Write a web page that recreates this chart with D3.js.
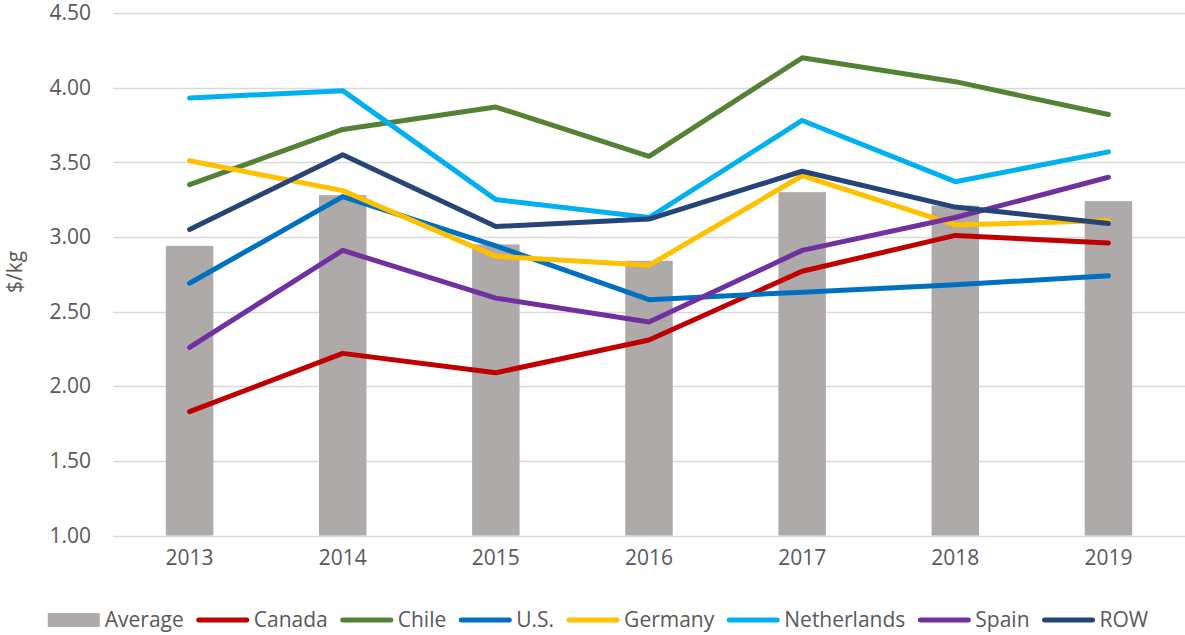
<!DOCTYPE html>
<html>
<head>
<meta charset="utf-8">
<script src="https://cdn.jsdelivr.net/npm/d3@7"></script>
<style>
  body { margin: 0; background: #fff; }
  text { font-family: "Open Sans", sans-serif; fill: #595959; }
</style>
</head>
<body>
<div id="chart"></div>
<script>
"use strict";

// == data ==
var years = ["2013", "2014", "2015", "2016", "2017", "2018", "2019"];
var average = [2.94, 3.28, 2.95, 2.84, 3.30, 3.21, 3.24];
var canada = [1.83, 2.22, 2.09, 2.31, 2.77, 3.01, 2.96];
var chile = [3.35, 3.72, 3.87, 3.54, 4.20, 4.04, 3.82];
var us = [2.69, 3.27, 2.94, 2.58, 2.63, 2.68, 2.74];
var germany = [3.51, 3.31, 2.87, 2.81, 3.41, 3.08, 3.11];
var netherlands = [3.93, 3.98, 3.25, 3.13, 3.78, 3.37, 3.57];
var spain = [2.26, 2.91, 2.59, 2.43, 2.91, 3.13, 3.40];
var row = [3.05, 3.55, 3.07, 3.12, 3.44, 3.20, 3.09];
var yTicks = [1.0, 1.5, 2.0, 2.5, 3.0, 3.5, 4.0, 4.5];

var series = [
  { name: "Canada", values: canada, color: "#C00000" },
  { name: "Chile", values: chile, color: "#548235" },
  { name: "U.S.", values: us, color: "#0070C0" },
  { name: "Germany", values: germany, color: "#FFC000" },
  { name: "Netherlands", values: netherlands, color: "#00B0F0" },
  { name: "Spain", values: spain, color: "#7030A0" },
  { name: "ROW", values: row, color: "#264478" }
];
var barColor = "#AEAAAA";

// == boilerplate ==
var width = 1185, height = 635;
var margin = { top: 13, right: 0, bottom: 100, left: 113 };

var svg = d3.select("#chart")
  .append("svg")
  .attr("width", width)
  .attr("height", height);

var x = d3.scaleBand()
  .domain(years)
  .range([margin.left, width - margin.right])
  .paddingInner(0.69)
  .paddingOuter(0.345);

var y = d3.scaleLinear()
  .domain([1, 4.5])
  .range([height - margin.bottom + 0.5, margin.top]);

// gridlines
svg.append("g")
  .selectAll("line")
  .data(yTicks)
  .enter().append("line")
    .attr("x1", margin.left)
    .attr("x2", width - margin.right)
    .attr("y1", function(d) { return Math.round(y(d)) + 0.5; })
    .attr("y2", function(d) { return Math.round(y(d)) + 0.5; })
    .style("stroke", "#D9D9D9")
    .style("stroke-width", 1.5);

// y axis labels
var yAxis = d3.axisLeft(y)
  .tickValues(yTicks)
  .tickFormat(d3.format(".2f"))
  .tickSize(0)
  .tickPadding(0);
svg.append("g")
  .attr("transform", "translate(" + 91 + ",0)")
  .call(yAxis)
  .call(function(g) { g.select(".domain").remove(); })
  .selectAll("text")
    .style("font-size", "21px")
    .style("fill", "#595959")
    .style("font-family", "'Open Sans', sans-serif");

// x axis labels
var xAxis = d3.axisBottom(x).tickSize(0).tickPadding(0);
svg.append("g")
  .attr("transform", "translate(0," + 550 + ")")
  .call(xAxis)
  .call(function(g) { g.select(".domain").remove(); })
  .selectAll("text")
    .style("font-size", "21px")
    .style("fill", "#595959")
    .style("font-family", "'Open Sans', sans-serif");

// y title
svg.append("text")
  .attr("transform", "translate(22," + 272 + ") rotate(-90)")
  .attr("text-anchor", "middle")
  .style("font-size", "21px")
  .text("$/kg");

// bars
svg.append("g")
  .selectAll("rect")
  .data(average)
  .enter().append("rect")
    .attr("x", function(d, i) { return x(years[i]); })
    .attr("width", x.bandwidth())
    .attr("y", function(d) { return y(d); })
    .attr("height", function(d) { return y(1) - y(d); })
    .style("fill", barColor);

// lines
var line = d3.line()
  .x(function(d, i) { return x(years[i]) + x.bandwidth() / 2; })
  .y(function(d) { return y(d); });

svg.append("g")
  .selectAll("path")
  .data(series)
  .enter().append("path")
    .attr("d", function(d) { return line(d.values); })
    .style("fill", "none")
    .style("stroke", function(d) { return d.color; })
    .style("stroke-width", 5)
    .style("stroke-linecap", "round")
    .style("stroke-linejoin", "round");

// legend
var legendItems = [{ name: "Average", color: barColor, bar: true }].concat(series);
var legend = svg.append("g").attr("class", "legend");
var xpos = 0, swatchW = 52, legendY = 620;
var items = legend.selectAll("g")
  .data(legendItems)
  .enter().append("g");

items.each(function(d) {
  var g = d3.select(this);
  if (d.bar) {
    g.append("rect")
      .attr("x", 0).attr("y", legendY - 7)
      .attr("width", swatchW).attr("height", 14)
      .style("fill", d.color);
  } else {
    g.append("line")
      .attr("x1", 2).attr("x2", swatchW - 2)
      .attr("y1", legendY).attr("y2", legendY)
      .style("stroke", d.color)
      .style("stroke-width", 5)
      .style("stroke-linecap", "round");
  }
  var t = g.append("text")
    .attr("x", swatchW + 5)
    .attr("y", legendY)
    .attr("dy", "0.35em")
    .style("font-size", "21px")
    .text(d.name);
  g.attr("transform", "translate(" + xpos + ",0)");
  xpos += swatchW + 5 + t.node().getComputedTextLength() + 13;
});
var totalW = xpos - 13;
legend.attr("transform", "translate(" + (598 - totalW / 2) + ",0)");
</script>
</body>
</html>
